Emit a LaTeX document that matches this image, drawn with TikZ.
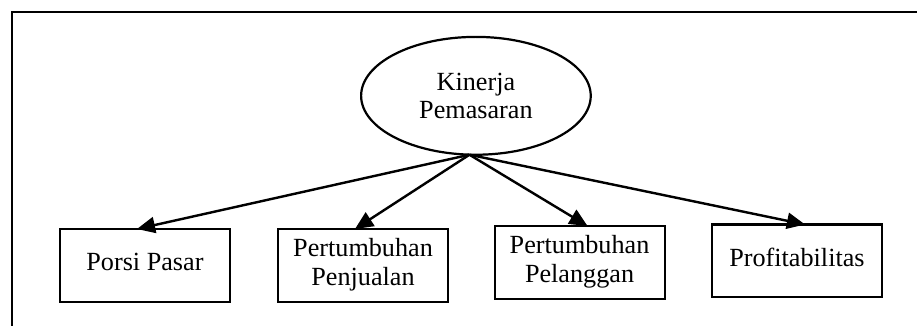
\documentclass[tikz,border=0pt]{standalone}
\usepackage{fontspec}
\setmainfont{Liberation Serif}
\usepackage{tikz,tkz-graph}
\usetikzlibrary{shapes.geometric,arrows.meta}
\tikzstyle{labeledOval}=[shape = ellipse, minimum width = 114pt, minimum height = 58.5pt, inner sep = 0pt, line width = 1.1pt, draw, align = center, font = \fontsize{13}{14}\selectfont]
\tikzstyle{labeledBox}=[shape = rectangle, minimum width = 84.4pt, minimum height = 36.2pt, inner sep = 0pt, line width = 1pt, draw, align = center, text depth = 0.32em, font = \fontsize{13}{14.4}\selectfont]

\begin{document}
\begin{tikzpicture}[scale = 16]
\tikzstyle{VertexStyle} = []
\tikzstyle{EdgeStyle} = [line width = 1.2pt, -{Triangle[length = 9pt, width = 8pt]}]
\useasboundingbox (0,0) rectangle (1,0.3555);
\draw[line width = 1.1pt] (0.0131,0) -- (0.0131,0.3424) -- (1,0.3424);
\Vertex[style = labeledOval, x = 0.519, y = 0.251, L = {Kinerja\\Pemasaran}]{v0}
\Vertex[style = labeledBox, x = 0.1581, y = 0.0660, L = {Porsi Pasar}]{v1}
\Vertex[style = labeledBox, x = 0.3959, y = 0.0660, L = {Pertumbuhan\\Penjualan}]{v2}
\Vertex[style = labeledBox, x = 0.6320, y = 0.0692, L = {Pertumbuhan\\Pelanggan}]{v3}
\Vertex[style = labeledBox, x = 0.8691, y = 0.0709, L = {Profitabilitas}]{v4}
% shifts are in scaled units (scale = 16)
\draw[EdgeStyle] ([xshift = -0.2pt]v0.south) -- ([xshift = -0.25pt]v1.north);
\draw[EdgeStyle] ([xshift = -0.2pt]v0.south) -- ([xshift = -0.25pt]v2.north);
\draw[EdgeStyle] ([xshift = -0.2pt]v0.south) -- ([xshift = 0.25pt]v3.north);
\draw[EdgeStyle] ([xshift = -0.2pt]v0.south) -- ([xshift = 0.25pt]v4.north);
\end{tikzpicture}
\end{document}
